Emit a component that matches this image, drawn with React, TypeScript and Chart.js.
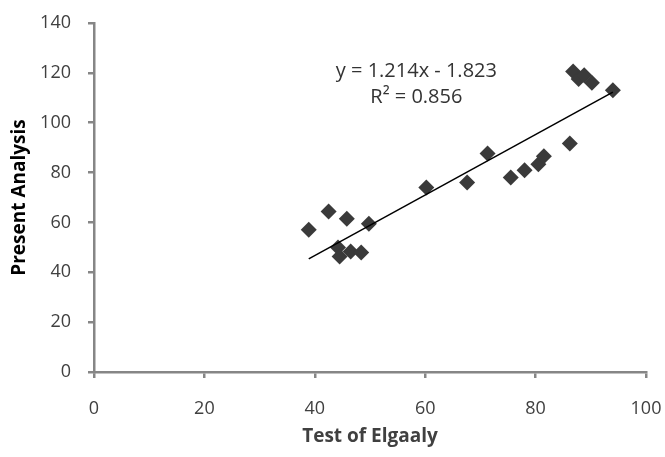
import React, { useEffect, useRef } from "react";
import { Chart, registerables } from "chart.js";

Chart.register(...registerables);

// Test of Elgaaly (x) vs Present Analysis (y)
const elgaaly = [38.9, 42.5, 45.8, 49.8, 44.2, 44.5, 46.5, 48.4, 60.2, 67.6, 71.3, 75.5, 78.0, 80.5, 81.5, 86.2, 86.8, 87.8, 88.8, 90.2, 94.0];
const present = [57.1, 64.4, 61.5, 59.5, 49.9, 46.3, 48.3, 47.9, 74.0, 76.0, 87.7, 78.0, 80.9, 83.3, 86.5, 91.7, 120.5, 117.5, 119.0, 116.0, 113.0];

// Linear trendline end points
const trendX = [38.9, 94.0];
const trendY = [45.4, 112.3];

const equationLines = ["y = 1.214x - 1.823", "R² = 0.856"];
const equationAnchor = [58.4, 120.5]; // data coords for first line centre

const xTicks = [0, 20, 40, 60, 80, 100];
const yTicks = [0, 20, 40, 60, 80, 100, 120, 140];

const FONT = "'Open Sans', sans-serif";
const AXIS = "#868686";
const TEXT = "#404040";

const equationPlugin = {
  id: "equationText",
  afterDatasetsDraw(chart: any) {
    const { ctx, scales } = chart;
    const x = scales.x.getPixelForValue(equationAnchor[0]);
    const y = scales.y.getPixelForValue(equationAnchor[1]);
    ctx.save();
    ctx.fillStyle = "#333333";
    ctx.font = `20px ${FONT}`;
    ctx.textAlign = "center";
    ctx.textBaseline = "middle";
    equationLines.forEach((t, i) => ctx.fillText(t, x, y + i * 26));
    ctx.restore();
  },
};

export default function App() {
  const ref = useRef<HTMLCanvasElement>(null);
  useEffect(() => {
    document.body.style.margin = "0";
    const scatter = elgaaly.map((v, i) => ({ x: v, y: present[i] }));
    const trend = trendX.map((v, i) => ({ x: v, y: trendY[i] }));
    const chart = new Chart(ref.current!, {
      type: "scatter",
      data: {
        datasets: [
          {
            type: "line",
            data: trend,
            borderColor: "#000000",
            borderWidth: 1.5,
            pointRadius: 0,
            fill: false,
          } as any,
          {
            data: scatter,
            pointStyle: "rectRot",
            pointRadius: 8,
            backgroundColor: "#3a3a3a",
            borderColor: "#3a3a3a",
            borderWidth: 0,
          },
        ],
      },
      options: {
        responsive: false,
        animation: false,
        events: [],
        layout: { padding: { top: 23, right: 19, left: 0, bottom: 0 } },
        plugins: { legend: { display: false }, tooltip: { enabled: false } },
        scales: {
          x: {
            type: "linear",
            min: 0,
            max: 100,
            afterBuildTicks: (s: any) => {
              s.ticks = xTicks.map((v) => ({ value: v }));
            },
            afterFit: (s: any) => {
              s.height = 85;
              s.paddingLeft = 0;
              s.paddingRight = 0;
            },
            border: { display: true, color: AXIS, width: 2.5 },
            grid: { drawOnChartArea: false, drawTicks: true, tickLength: 6, color: AXIS, lineWidth: 2.5 },
            ticks: { color: TEXT, font: { family: FONT, size: 18 }, padding: 20 },
            title: {
              display: true,
              text: "Test of Elgaaly",
              color: TEXT,
              font: { family: FONT, size: 19, weight: "bold" },
              padding: { top: 0, bottom: 9 },
            },
          },
          y: {
            type: "linear",
            min: 0,
            max: 140,
            afterBuildTicks: (s: any) => {
              s.ticks = yTicks.map((v) => ({ value: v }));
            },
            afterFit: (s: any) => {
              s.width = 94;
              s.paddingTop = 0;
              s.paddingBottom = 0;
            },
            border: { display: true, color: AXIS, width: 2.5 },
            grid: { drawOnChartArea: false, drawTicks: true, tickLength: 6, color: AXIS, lineWidth: 2.5 },
            ticks: { color: TEXT, font: { family: FONT, size: 18 }, padding: 17 },
            title: {
              display: true,
              text: "Present Analysis",
              color: "#000000",
              font: { family: FONT, size: 19, weight: "bold" },
              padding: { top: 8, bottom: 0 },
            },
          },
        },
      },
      plugins: [equationPlugin],
    });
    return () => chart.destroy();
  }, []);
  return (
    <div style={{ width: 665, height: 457 }}>
      <canvas ref={ref} width={665} height={457} style={{ display: "block" }} />
    </div>
  );
}
